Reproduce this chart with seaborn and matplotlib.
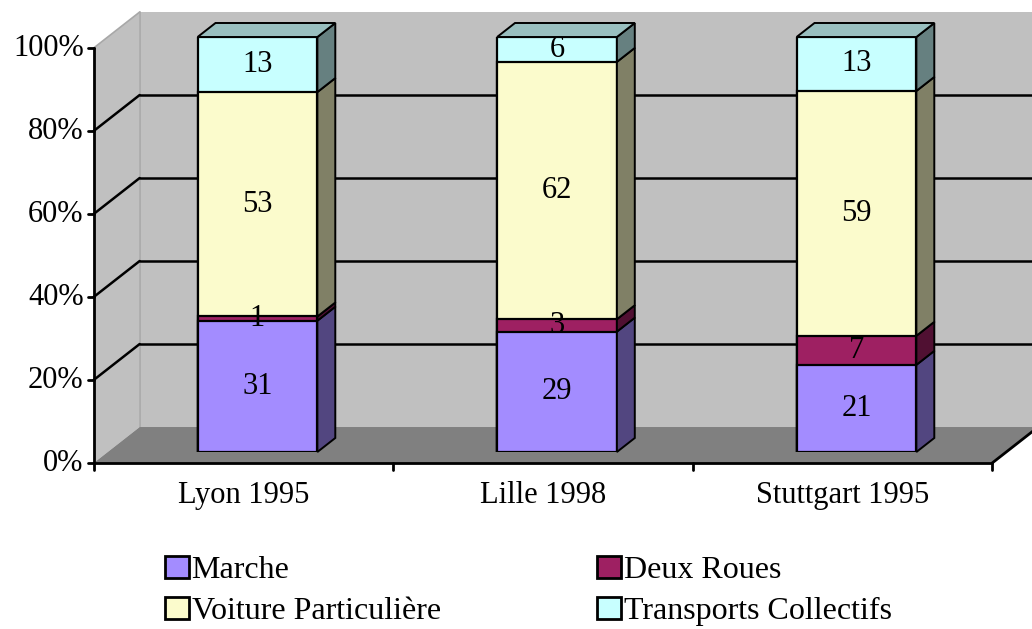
import numpy as np
import pandas as pd
import matplotlib
matplotlib.use("Agg")
import matplotlib.pyplot as plt
from matplotlib.patches import Polygon, Patch
import seaborn as sns

# Modal split (raw counts, shown as labels) for three surveys
cities = ["Lyon 1995", "Lille 1998", "Stuttgart 1995"]
modes = ["Marche", "Deux Roues", "Voiture Particulière", "Transports Collectifs"]
marche = [31, 29, 21]
deux_roues = [1, 3, 7]
voiture = [53, 62, 59]
transports = [13, 6, 13]
y_ticks = [0, 20, 40, 60, 80, 100]
y_tick_labels = ["0%", "20%", "40%", "60%", "80%", "100%"]

front_colors = ["#a38cff", "#9e2062", "#fbfbcc", "#c8ffff"]
side_colors = ["#524680", "#501032", "#808066", "#668080"]
top_color = "#99bfbf"

sns.set_theme(style="white")
plt.rcParams["font.family"] = ["Liberation Serif", "DejaVu Serif"]
FS = 22

# 100 % stacked shares
values = np.array([marche, deux_roues, voiture, transports], dtype=float)
shares = values / values.sum(axis=0) * 100
tops = np.cumsum(shares, axis=0)
bottoms = tops - shares

W, H = 1032, 629
fig = plt.figure(figsize=(W / 100, H / 100), dpi=100)
ax = fig.add_axes([107.75 / W, (H - 452) / H, 898.5 / W, 415 / H])

# pixel -> data unit helpers
px_x = 3 / 898.5
px_y = 100 / 415
depth = np.array([46 * px_x, 36 * px_y])      # full depth of the chart box
fx, fy = -0.306 * depth                        # front plane of the box
bx, by = 0.694 * depth                         # back wall plane
dx, dy = 0.389 * depth                         # depth of each bar
x0, x1 = -0.5, 2.5

wall_kw = dict(clip_on=False, linewidth=0)
# back wall, left wall, floor
ax.add_patch(Polygon([(x0 + bx, by), (x1 + bx, by), (x1 + bx, 100 + by), (x0 + bx, 100 + by)],
                     facecolor="#c0c0c0", zorder=0, **wall_kw))
ax.add_patch(Polygon([(x0 + fx, fy), (x0 + bx, by), (x0 + bx, 100 + by), (x0 + fx, 100 + fy)],
                     facecolor="#c0c0c0", zorder=0, **wall_kw))
ax.add_patch(Polygon([(x0 + fx, fy), (x1 + fx, fy), (x1 + bx, by), (x0 + bx, by)],
                     facecolor="#808080", zorder=1, **wall_kw))
# wall corner and top edge
ax.plot([x0 + bx, x0 + bx], [by, 100 + by], color="#a8a8a8", lw=1.2, zorder=0.5, clip_on=False)
ax.plot([x0 + fx, x0 + bx], [100 + fy, 100 + by], color="#a8a8a8", lw=1.2, zorder=0.5, clip_on=False)

# gridlines on back and left walls
for v in y_ticks[1:-1]:
    ax.plot([x0 + bx, x1 + bx], [v + by, v + by], color="black", lw=1.8, zorder=0.8, clip_on=False)
    ax.plot([x0 + fx, x0 + bx], [v + fy, v + by], color="black", lw=1.8, zorder=0.8, clip_on=False)

# axes lines and ticks on the front plane
ax.plot([x0 + fx, x0 + fx], [fy, 100 + fy], color="black", lw=2, zorder=2, clip_on=False)
ax.plot([x0 + fx, x1 + fx], [fy, fy], color="black", lw=2, zorder=2, clip_on=False)
ax.plot([x1 + fx, x1 + bx], [fy, by], color="black", lw=2, zorder=2, clip_on=False)
for v, lab in zip(y_ticks, y_tick_labels):
    ax.plot([x0 + fx - 6 * px_x, x0 + fx], [v + fy, v + fy], color="black", lw=2, zorder=2, clip_on=False)
    ax.text(x0 + fx - 10 * px_x, v + fy, lab, ha="right", va="center", fontsize=FS,
            color="black", clip_on=False)
for b in np.arange(x0, x1 + 0.01, 1.0):
    ax.plot([b + fx, b + fx], [fy, fy - 7 * px_y], color="black", lw=2, zorder=2, clip_on=False)
for i, c in enumerate(cities):
    ax.text(i + fx, fy - 32 * px_y, c, ha="center", va="center", fontsize=FS, color="black")

# front faces: cumulative totals drawn from the top layer down
for k in reversed(range(len(modes))):
    df = pd.DataFrame({"ville": cities, "cumul": tops[k]})
    sns.barplot(data=df, x="ville", y="cumul", order=cities, color=front_colors[k],
                saturation=1, width=0.4, errorbar=None, edgecolor="black",
                linewidth=1.6, ax=ax, zorder=3)

# side and top faces for the 3-D look
for i in range(len(cities)):
    xl, xr = i - 0.2, i + 0.2
    for k in range(len(modes)):
        b, t = bottoms[k, i], tops[k, i]
        ax.add_patch(Polygon([(xr, b), (xr + dx, b + dy), (xr + dx, t + dy), (xr, t)],
                             facecolor=side_colors[k], edgecolor="black", linewidth=1.4,
                             zorder=3, clip_on=False))
    t = tops[-1, i]
    ax.add_patch(Polygon([(xl, t), (xl + dx, t + dy), (xr + dx, t + dy), (xr, t)],
                         facecolor=top_color, edgecolor="black", linewidth=1.4,
                         zorder=3, clip_on=False))
    for k in range(len(modes)):
        ax.text(i, (bottoms[k, i] + tops[k, i]) / 2, f"{values[k, i]:.0f}",
                ha="center", va="center", fontsize=FS, color="black", zorder=5)

ax.set_xlim(x0, x1)
ax.set_ylim(0, 100)
ax.axis("off")

# legend: two columns, filled column-wise
order = [0, 2, 1, 3]
handles = [Patch(facecolor=front_colors[k], edgecolor="black", linewidth=2) for k in order]
labels = [modes[k] for k in order]
fig.legend(handles, labels, ncol=2, loc="upper left", bbox_to_anchor=(165 / W, 1 - 556 / H),
           frameon=False, fontsize=23, labelcolor="black", handlelength=0.75,
           handleheight=0.7, handletextpad=0.08, columnspacing=4.9, labelspacing=0.36,
           borderpad=0, borderaxespad=0)

fig.savefig("out.png", dpi=100, facecolor="white")
